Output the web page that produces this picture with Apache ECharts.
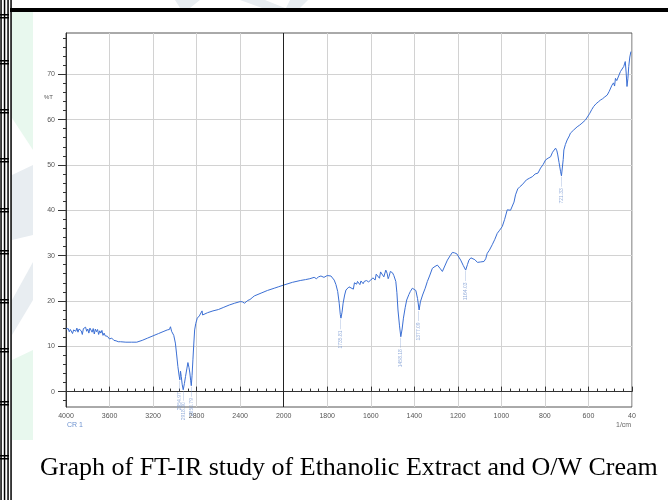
<!DOCTYPE html>
<html><head><meta charset="utf-8">
<script src="https://cdn.jsdelivr.net/npm/echarts@6/dist/echarts.min.js"></script>
<style>html,body{margin:0;padding:0;background:#fff}#c{width:668px;height:500px}</style>
</head><body><div id="c"></div>
<script>
// Wavenumber (1/cm), descending
const wavenumbers = [4000,3990,3980,3970,3960,3950,3940,3930,3920,3910,3900,3890,3880,3870,3860,3850,3840,3830,3820,3810,3800,3790,3780,3770,3760,3750,3740,3730,3720,3710,3700,3690,3680,3670,3660,3650,3640,3620,3600,3580,3560,3540,3520,3500,3450,3400,3350,3300,3250,3200,3150,3100,3070,3050,3040,3030,3010,2995,2985,2972,2960,2954,2948,2941,2932,2923,2912,2902,2890,2880,2870,2862,2855,2849,2842,2834,2826,2818,2808,2794,2775,2760,2750,2745,2700,2650,2600,2550,2500,2450,2400,2380,2370,2360,2345,2330,2310,2290,2270,2200,2150,2087,2050,2000,1960,1924,1900,1880,1860,1850,1840,1829,1815,1800,1783,1775,1768,1760,1752,1745,1740,1737,1732,1727,1720,1714,1705,1700,1691,1680,1675,1665,1661,1650,1645,1635,1630,1620,1610,1600,1590,1580,1575,1569,1560,1555,1546,1540,1531,1525,1520,1516,1510,1500,1494,1485,1480,1475,1468,1462,1456,1450,1442,1435,1425,1418,1409,1400,1393,1385,1378,1372,1362,1350,1340,1330,1317,1305,1294,1282,1271,1260,1248,1235,1225,1215,1210,1205,1198,1187,1175,1164,1156,1149,1140,1133,1122,1110,1095,1080,1072,1065,1055,1042,1030,1019,1008,996,985,973,965,958,950,942,935,925,915,905,897,885,870,858,845,832,820,808,797,790,785,774,765,758,751,745,741,735,728,724,721,716,713,706,698,693,688,683,675,668,660,652,640,630,622,614,606,595,585,576,565,555,545,535,525,514,505,500,492,485,480,476,470,461,453,445,438,431,427,423,419,415,410,405];
// %T
const transmittance = [13.8,13.5,13.9,13.2,13.7,13.4,12.8,13.6,13.9,13.3,14.0,13.1,13.8,14.1,13.4,12.6,13.9,13.5,14.2,13.3,13.8,12.9,14.0,13.6,13.1,13.9,12.7,13.8,13.2,13.7,12.6,13.4,12.9,13.5,12.4,12.9,12.3,12.2,11.6,11.8,11.3,11.2,11.0,11.0,10.9,10.9,10.9,11.3,11.8,12.3,12.8,13.3,13.6,13.7,14.3,13.3,12.4,10.7,8.5,5.5,3.4,2.6,4.5,3.3,1.5,0.4,1.8,3.3,5.0,6.4,5.3,4.1,2.5,1.3,3.5,7.0,10.5,13.6,15.0,16.2,16.7,16.9,17.8,16.9,17.4,17.8,18.1,18.6,19.1,19.5,19.85,19.8,19.4,19.5,19.8,20.1,20.3,20.7,21.1,21.8,22.3,22.8,23.1,23.5,24.1,24.5,24.7,24.9,25.2,24.9,25.3,25.5,25.2,25.6,25.5,25.3,24.6,23.6,22.1,19.5,17.0,16.2,17.5,19.5,21.3,22.4,22.0,23.1,23.5,22.6,24.0,23.7,24.3,23.6,24.4,23.8,24.3,24.5,24.2,24.6,25.1,24.6,25.9,26.2,25.0,26.4,26.0,25.3,26.8,26.1,24.9,25.4,26.5,26.2,25.6,24.3,21.8,18.0,14.5,12.1,13.8,16.2,18.5,20.2,21.4,22.1,22.8,22.6,22.3,20.5,18.0,19.8,21.3,22.8,24.3,25.5,27.2,27.6,27.9,27.2,26.5,27.7,29.0,30.0,30.7,30.6,30.9,30.4,30.5,29.0,27.8,26.8,28.0,29.0,29.5,29.7,29.1,28.5,28.6,28.7,29.3,30.5,31.2,32.4,33.6,34.9,35.6,36.4,38.0,40.1,40.3,40.0,40.1,41.8,43.4,44.7,45.2,45.6,46.0,46.7,47.1,47.4,48.0,48.2,49.3,50.1,51.1,50.7,51.5,51.8,52.8,52.6,53.7,53.1,52.2,50.5,48.5,47.6,47.8,51.2,53.3,54.5,55.5,55.1,56.4,57.0,57.4,57.7,58.1,58.4,58.8,59.2,59.5,59.9,60.3,61.3,62.2,62.9,63.5,63.9,64.3,64.6,65.0,65.4,66.2,66.0,67.6,68.1,67.4,69.1,68.6,68.8,70.6,70.2,71.7,72.8,70.5,67.3,69.0,71.7,73.8,75.0];
// Annotated peaks
const peakWavenumbers = [2954,2923,2849,1737,1462,1378,1164,721];
const peakTransmittance = [2.6,0.4,1.3,16.2,12.1,18.0,26.8,47.6];
const peakLabels = ['2954.97','2918.30','2850.79','1735.81','1458.18','1377.09','1164.03','721.33'];
// Axis ticks
const xTickLabels = ['4000','3600','3200','2800','2400','2000','1800','1600','1400','1200','1000','800','600','40'];
const yTickValues = [0,10,20,30,40,50,60,70];
const yMinorTickValues = [-2,2,4,6,8,12,14,16,18,22,24,26,28,32,34,36,38,42,44,46,48,52,54,56,58,62,64,66,68,72,74,76,78];

// FT-IR axis: 4000-2000 compressed by 2, 2000-400 at full scale
function toPos(w){ return w >= 2000 ? (4000 - w) / 2 : 1000 + (2000 - w); }

const chart = echarts.init(document.getElementById('c'), null, {renderer:'canvas'});
const lineData = wavenumbers.map((w,i)=>[toPos(w), transmittance[i]]);
const peakData = peakWavenumbers.map((w,i)=>[toPos(w), peakTransmittance[i]]);

const graphics = [];
// faint watermark shapes
graphics.push({type:'polygon', silent:true, z:-10, shape:{points:[[12,12],[33,12],[33,150],[12,118]]}, style:{fill:'#e8f8ee'}});
graphics.push({type:'polygon', silent:true, z:-10, shape:{points:[[12,175],[33,165],[33,235],[12,240]]}, style:{fill:'#e8edf1'}});
graphics.push({type:'polygon', silent:true, z:-10, shape:{points:[[12,300],[33,262],[33,300],[12,335]]}, style:{fill:'#e8edf1'}});
graphics.push({type:'polygon', silent:true, z:-10, shape:{points:[[12,360],[33,350],[33,440],[12,440]]}, style:{fill:'#e8f8ee'}});
graphics.push({type:'polygon', silent:true, z:-10, shape:{points:[[175,0],[200,0],[190,8],[180,8]]}, style:{fill:'#e8edf1'}});
graphics.push({type:'polygon', silent:true, z:-10, shape:{points:[[240,0],[265,0],[285,8],[262,8]]}, style:{fill:'#e8edf1'}});
graphics.push({type:'polygon', silent:true, z:-10, shape:{points:[[290,0],[308,0],[300,8],[286,8]]}, style:{fill:'#e8edf1'}});
// page border decorations
graphics.push({type:'rect', silent:true, shape:{x:10,y:8,width:658,height:4}, style:{fill:'#000'}});
[1,4.5,8,11].forEach(x=>graphics.push({type:'rect', silent:true, shape:{x:x-0.7,y:0,width:1.5,height:500}, style:{fill:'#000'}}));
[14,60,109,158,208,250,299,348,401,455].forEach(y=>{
  graphics.push({type:'rect', silent:true, shape:{x:0,y:y,width:9,height:1.5}, style:{fill:'#000'}});
  graphics.push({type:'rect', silent:true, shape:{x:0,y:y+3,width:9,height:1.5}, style:{fill:'#000'}});
});
// axis captions
graphics.push({type:'text', silent:true, left:44, top:94, style:{text:'%T', fontSize:6, fill:'#555', fontFamily:'Liberation Sans'}});
graphics.push({type:'text', silent:true, left:67, top:422, style:{text:'CR 1', fontSize:7, fill:'#6d92cf', fontFamily:'Liberation Sans'}});
graphics.push({type:'text', silent:true, left:616, top:422, style:{text:'1/cm', fontSize:7, fill:'#666', fontFamily:'Liberation Sans'}});
// caption
graphics.push({type:'text', silent:true, left:40, top:455, style:{text:'Graph of FT-IR study of Ethanolic Extract and O/W Cream', fontSize:26, fill:'#000', fontFamily:'Liberation Serif'}});

chart.setOption({
  animation:false,
  backgroundColor:'#fff',
  grid:{left:66, right:36, top:33, bottom:93, show:true, borderColor:'#555', borderWidth:1},
  xAxis:{type:'value', min:0, max:2600, interval:200,
    axisLine:{show:true, lineStyle:{color:'#333', width:1}},
    axisTick:{show:true, inside:true, length:5, lineStyle:{color:'#333'}},
    minorTick:{show:true, splitNumber:5, length:3, lineStyle:{color:'#333'}},
    axisLabel:{fontSize:7, color:'#555', margin:6, fontFamily:'Liberation Sans',
      formatter:v=>xTickLabels[Math.round(v/200)]},
    splitLine:{show:true, lineStyle:{color:'#d2d2d2', width:1}}
  },
  yAxis:[{type:'value', min:-3.4, max:79.1,
    axisLine:{show:true, lineStyle:{color:'#333', width:1}},
    axisTick:{show:true, length:8, customValues:yTickValues, lineStyle:{color:'#333'}},
    axisLabel:{fontSize:7, color:'#555', margin:11, fontFamily:'Liberation Sans', customValues:yTickValues},
    splitLine:{show:true, lineStyle:{color:'#d2d2d2', width:1}}
  },{type:'value', min:-3.4, max:79.1, position:'left',
    axisLine:{show:false},
    axisTick:{show:true, length:3, customValues:yMinorTickValues, lineStyle:{color:'#333'}},
    axisLabel:{show:false},
    splitLine:{show:false}
  }],
  graphic:graphics,
  series:[{
    type:'line', data:lineData, showSymbol:false, symbol:'none',
    lineStyle:{color:'#3b6fd4', width:1}, z:3,
    markLine:{silent:true, symbol:'none', label:{show:false},
      lineStyle:{color:'#222', width:1, type:'solid'}, data:[{xAxis:1000}]}
  },{
    type:'scatter', data:peakData, symbolSize:0, z:4,
    label:{show:true, rotate:90, position:'bottom', distance:1, align:'right', verticalAlign:'middle',
      fontSize:5, color:'#7b9ad2', fontFamily:'Liberation Sans',
      formatter:p=>peakLabels[p.dataIndex] + ' \u2014\u2014'}
  }]
});
</script>
</body></html>
